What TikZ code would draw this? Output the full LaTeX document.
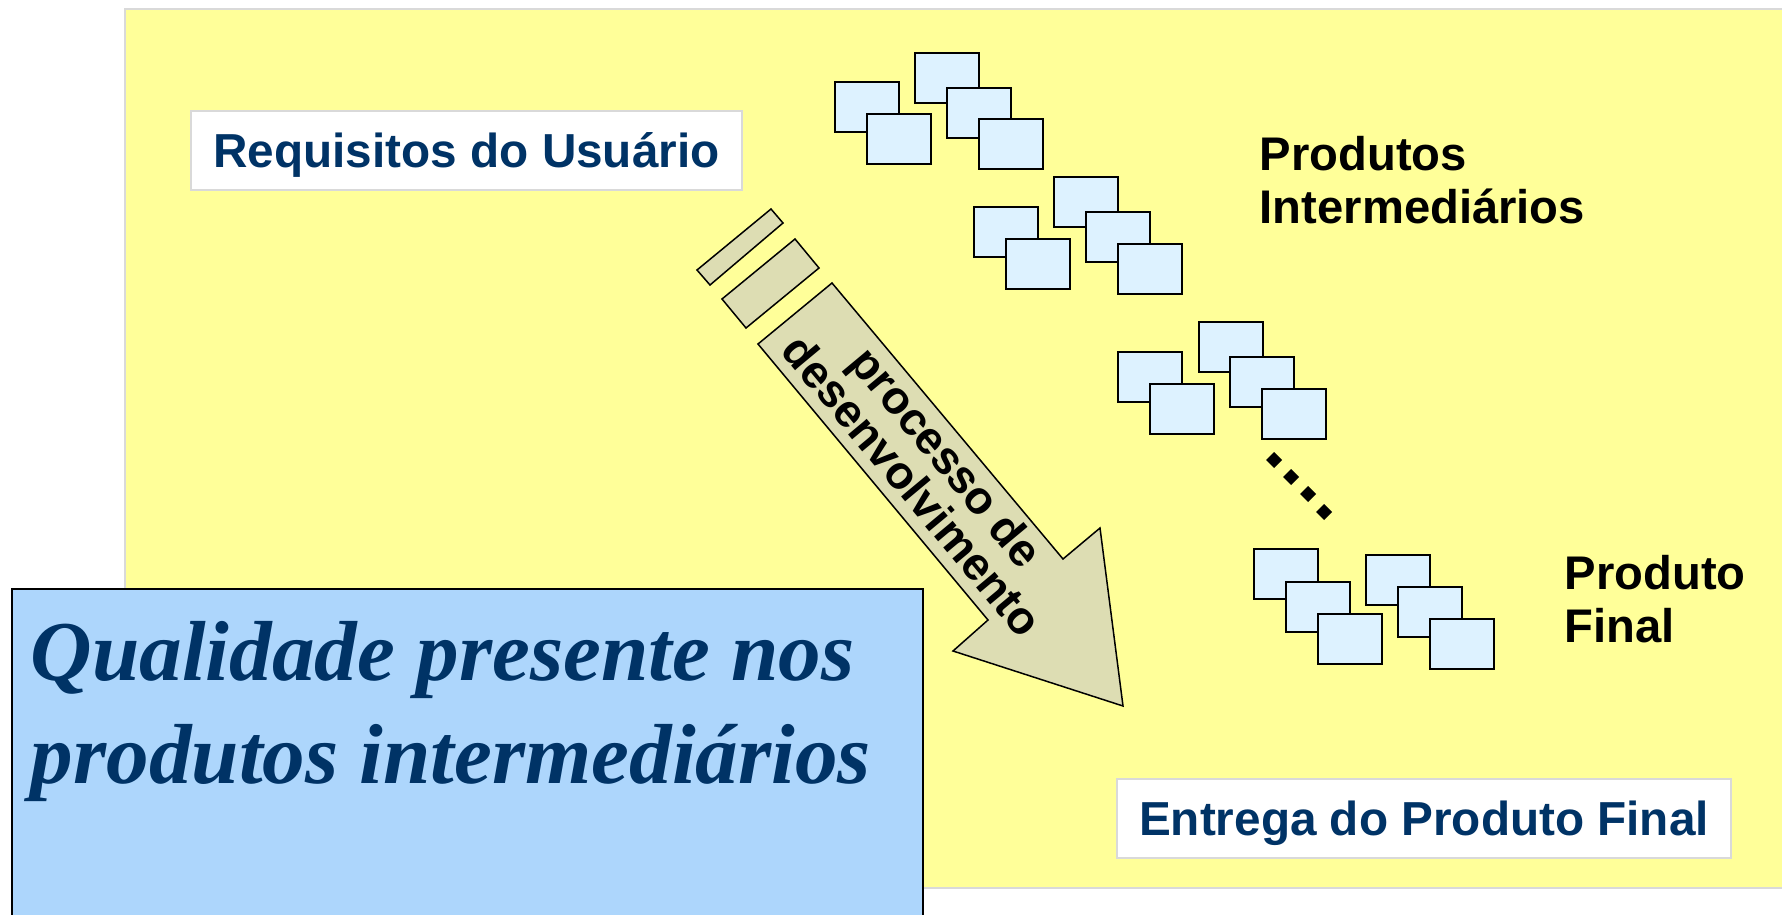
\documentclass[tikz,border=0pt]{standalone}
\usepackage{fontspec}
\setmainfont{Liberation Serif}
\setsansfont{Liberation Sans}
\definecolor{bgyellow}{RGB}{255,255,153}
\definecolor{framegray}{RGB}{217,217,217}
\definecolor{navy}{RGB}{0,51,102}
\definecolor{sqblue}{RGB}{221,242,255}
\definecolor{khaki}{RGB}{221,221,179}
\definecolor{qblue}{RGB}{173,214,252}
\begin{document}
\begin{tikzpicture}[x=0.5pt,y=-0.5pt,line width=0.75pt,
  labelbox/.style={draw=framegray, fill=white, line width=0.75pt, inner sep=0pt, text=navy,
    font=\sffamily\bfseries\fontsize{23.85pt}{28pt}\selectfont, text height=17.1pt, text depth=0pt},
  sq/.style={draw=black, fill=sqblue, line width=0.8pt},
  blacklabel/.style={font=\sffamily\bfseries\fontsize{23.6pt}{26.5pt}\selectfont, align=left, inner sep=0pt},
  arrowtext/.style={font=\sffamily\bfseries\fontsize{23pt}{20.5pt}\selectfont, align=center, inner sep=0pt},
  qtext/.style={font=\rmfamily\bfseries\itshape\fontsize{42.6pt}{51.5pt}\selectfont, text=navy, align=left, inner sep=0pt},
  dotmark/.style={fill=black}]
\useasboundingbox (0,0) rectangle (1782,915);
% background panel
\fill[white] (0,0) rectangle (1782,915);
\draw[draw=framegray, fill=bgyellow, line width=0.75pt] (125,9) rectangle (1800,888);
% label boxes
\node[labelbox, minimum width=275.5pt, minimum height=39.5pt] (req) at (466.5,150.5) {Requisitos do Usuário};
\node[labelbox, minimum width=307pt, minimum height=39.5pt] (ent) at (1424,818.5) {Entrega do Produto Final};
% development arrow
\draw[fill=khaki, line width=0.75pt] (697,270) -- (771,209) -- (783,223) -- (710,285) -- cycle;
\draw[fill=khaki, line width=0.75pt] (722,299) -- (795,239) -- (819,268) -- (746,328) -- cycle;
\draw[fill=khaki, line width=0.75pt, line join=miter] (758,344) -- (832,283) -- (1063,559) -- (1100,528)
  -- (1123,706) -- (953,651) -- (988,620) -- cycle;
\node[arrowtext, rotate=-50.2] (proc) at (930,471) {processo de\\desenvolvimento};
% intermediate products
\foreach \x/\y in {835/82, 867/114, 915/53, 947/88, 979/119,
                   974/207, 1006/239, 1054/177, 1086/212, 1118/244,
                   1118/352, 1150/384, 1199/322, 1230/357, 1262/389,
                   1254/549, 1286/582, 1318/614, 1366/555, 1398/587, 1430/619}
  \draw[sq] (\x,\y) rectangle ++(64,50);
% dots
\foreach \cx/\cy in {1274/460, 1291/477, 1308/494, 1324/512}
  \fill[dotmark] (\cx-8,\cy) -- (\cx,\cy-8) -- (\cx+8,\cy) -- (\cx,\cy+8) -- cycle;
\node[blacklabel, anchor=base west] (pinter) at (1259,223) {Produtos\\Intermediários};
\node[blacklabel, anchor=base west] (pfinal) at (1564,642) {Produto\\Final};
% quality box
\draw[draw=black, fill=qblue, line width=0.75pt] (12,589) rectangle (923,930);
\node[qtext, anchor=base west] (qual) at (30,783) {Qualidade presente nos\\produtos intermediários};
\end{tikzpicture}
\end{document}
